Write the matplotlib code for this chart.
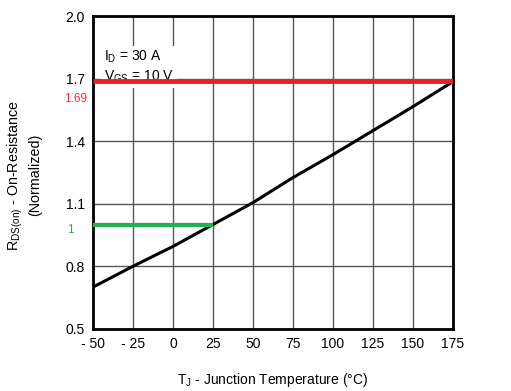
import numpy as np
import matplotlib.pyplot as plt

plt.rcParams['font.family'] = ['Liberation Sans', 'DejaVu Sans']

temp = [-50, -25, 0, 25, 50, 75, 100, 125, 150, 175]
rds_norm = [0.70, 0.80, 0.895, 1.0, 1.105, 1.225, 1.335, 1.45, 1.565, 1.685]

x_ticks = [-50, -25, 0, 25, 50, 75, 100, 125, 150, 175]
x_labels = ['- 50', '- 25', '0', '25', '50', '75', '100', '125', '150', '175']
y_ticks = [0.5, 0.8, 1.1, 1.4, 1.7, 2.0]

ref_high = 1.69
ref_low = 1.0
ref_low_end = 25

fig = plt.figure(figsize=(5.11, 3.91), dpi=100)
ax = fig.add_axes([0.182, 0.159, 0.704, 0.80])

ax.plot(temp, rds_norm, color='black', lw=2.2, zorder=3)
ax.plot([-50, 175], [ref_high, ref_high], color='#e8202a', lw=3.5, zorder=4, solid_capstyle='butt')
ax.plot([-50, ref_low_end], [ref_low, ref_low], color='#22b14c', lw=3, zorder=4, solid_capstyle='butt')

ax.set_xlim(-50, 175)
ax.set_ylim(0.5, 2.0)
ax.set_xticks(x_ticks)
ax.set_xticklabels(x_labels)
ax.set_yticks(y_ticks)
ax.set_yticklabels(['%.1f' % v for v in y_ticks])
ax.tick_params(length=0, labelsize=10, pad=6)
ax.grid(True, color='#555555', lw=1)
for s in ax.spines.values():
    s.set_linewidth(2)
    s.set_color('black')

ax.text(-43, 1.69, 'I$_\\mathregular{D}$ = 30 A\nV$_\\mathregular{GS}$ = 10 V', fontsize=10,
        zorder=2, linespacing=1.3,
        bbox=dict(facecolor='white', edgecolor='none', pad=2))

ax.text(-54, 1.60, '1.69', color='#f0303a', fontsize=8.5, ha='right', va='center',
        clip_on=False)
ax.text(-62, 0.975, '1', color='#22b14c', fontsize=8.5, ha='right', va='center',
        clip_on=False)

ax.set_xlabel(r'T$_\mathregular{J}$ - Junction Temperature (°C)', fontsize=10, labelpad=14)
fig.text(0.030, 0.552, r'R$_\mathregular{DS(on)}$ - On-Resistance', rotation=90,
         fontsize=10.3, ha='center', va='center')
fig.text(0.068, 0.552, '(Normalized)', rotation=90, fontsize=10.3, ha='center', va='center')

fig.savefig('out.png', dpi=100)
